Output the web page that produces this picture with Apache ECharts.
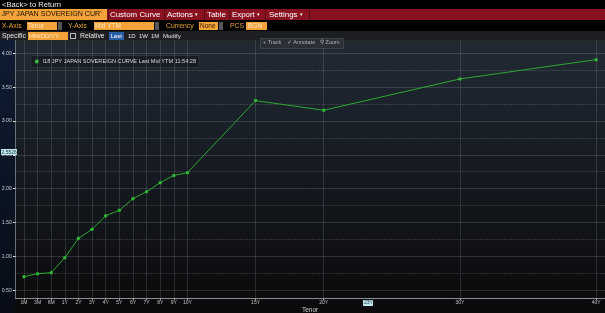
<!DOCTYPE html>
<html>
<head>
<meta charset="utf-8">
<script src="https://cdn.jsdelivr.net/npm/echarts@6/dist/echarts.min.js"></script>
<style>
  html, body { margin:0; padding:0; background:#000; }
  #wrap { position:relative; width:605px; height:313px; overflow:hidden; background:#000; font-family:"Liberation Sans", Arial, sans-serif; }
  #chart { position:absolute; left:0; top:0; width:605px; height:313px; }
  .t { position:absolute; white-space:nowrap; line-height:1; }
  .box { position:absolute; white-space:nowrap; line-height:1; }
</style>
</head>
<body>
<div id="wrap">
  <div id="chart"></div>

  <!-- header row 1 -->
  <div class="t" style="left:2px;top:1px;font-size:7.6px;color:#e8e8e8;">&lt;Back&gt; to Return</div>
  <!-- red menu bar -->
  <div class="box" style="left:0;top:9px;width:605px;height:11px;background:#8a1220;"></div>
  <div class="box" style="left:0;top:9px;width:107px;height:11px;background:#f3a33a;"></div>
  <div class="t" style="left:1.5px;top:11px;font-size:7.1px;color:#1a1000;">JPY JAPAN SOVEREIGN CUR'</div>
  <div class="t" style="left:110px;top:10.8px;font-size:7.9px;color:#fff;">Custom Curve</div>
  <div class="t" style="left:167px;top:10.8px;font-size:7.9px;color:#fff;">Actions <span style="font-size:5px;vertical-align:1px">&#9662;</span></div>
  <div class="t" style="left:207px;top:10.8px;font-size:7.9px;color:#fff;">Table</div>
  <div class="t" style="left:232px;top:10.8px;font-size:7.9px;color:#fff;">Export <span style="font-size:5px;vertical-align:1px">&#9662;</span></div>
  <div class="t" style="left:269px;top:10.8px;font-size:7.9px;color:#fff;">Settings <span style="font-size:5px;vertical-align:1px">&#9662;</span></div>
  <div class="box" style="left:108px;top:9px;width:1px;height:11px;background:#5a0a12;"></div>
  <div class="box" style="left:164px;top:9px;width:1px;height:11px;background:#5a0a12;"></div>
  <div class="box" style="left:204px;top:9px;width:1px;height:11px;background:#5a0a12;"></div>
  <div class="box" style="left:229px;top:9px;width:1px;height:11px;background:#5a0a12;"></div>
  <div class="box" style="left:265px;top:9px;width:1px;height:11px;background:#5a0a12;"></div>
  <div class="box" style="left:309px;top:9px;width:1px;height:11px;background:#5a0a12;"></div>

  <!-- header row 2 -->
  <div class="t" style="left:2px;top:22.5px;font-size:6.8px;color:#e9a63e;">X-Axis</div>
  <div class="box" style="left:27px;top:21.5px;width:30px;height:8px;background:#f3a33a;"></div>
  <div class="t" style="left:28px;top:22.5px;font-size:6.5px;color:#fde8c4;">Tenor</div>
  <div class="box" style="left:58px;top:21.5px;width:4px;height:8px;background:#555;"></div>
  <div class="t" style="left:68px;top:22.5px;font-size:6.8px;color:#e9a63e;">Y-Axis</div>
  <div class="box" style="left:94px;top:21.5px;width:60px;height:8px;background:#f3a33a;"></div>
  <div class="t" style="left:95px;top:22.5px;font-size:6.5px;color:#fde8c4;">Mid YTM</div>
  <div class="box" style="left:155px;top:21.5px;width:4px;height:8px;background:#555;"></div>
  <div class="t" style="left:166px;top:22.5px;font-size:6.8px;color:#e9a63e;">Currency</div>
  <div class="box" style="left:199px;top:21.5px;width:19px;height:8px;background:#f3a33a;"></div>
  <div class="t" style="left:200px;top:22.5px;font-size:6.5px;color:#3a2000;">None</div>
  <div class="box" style="left:219px;top:21.5px;width:4px;height:8px;background:#555;"></div>
  <div class="t" style="left:230px;top:22.5px;font-size:6.8px;color:#e9a63e;">PCS</div>
  <div class="box" style="left:246px;top:21.5px;width:21px;height:8px;background:#f3a33a;"></div>
  <div class="t" style="left:248px;top:22.5px;font-size:6.5px;color:#fde8c4;">BGN</div>

  <!-- header row 3 -->
  <div class="box" style="left:0;top:31px;width:605px;height:9px;background:#1c1e21;"></div>
  <div class="t" style="left:2px;top:32.5px;font-size:6.8px;color:#e8e8e8;">Specific</div>
  <div class="box" style="left:28px;top:31.5px;width:40px;height:8px;background:#f3a33a;"></div>
  <div class="t" style="left:29px;top:32.8px;font-size:6px;color:#fde8c4;">MM/DD/YY</div>
  <div class="box" style="left:70px;top:33px;width:4px;height:4px;border:0.5px solid #bbb;"></div>
  <div class="t" style="left:80px;top:32.5px;font-size:6.8px;color:#e8e8e8;">Relative</div>
  <div class="box" style="left:109px;top:31.5px;width:15px;height:8px;background:#2a5ea6;"></div>
  <div class="t" style="left:110.5px;top:33px;font-size:6px;color:#fff;">Last</div>
  <div class="t" style="left:128px;top:33px;font-size:6px;color:#e8e8e8;">1D</div>
  <div class="t" style="left:139px;top:33px;font-size:6px;color:#e8e8e8;">1W</div>
  <div class="t" style="left:151px;top:33px;font-size:6px;color:#e8e8e8;">1M</div>
  <div class="t" style="left:163px;top:33px;font-size:6px;color:#e8e8e8;">Modify</div>

  <!-- chart toolbar -->
  <div class="box" style="left:260px;top:38px;width:82px;height:8.5px;background:#2a2f36;border:0.5px solid #3c434c;"></div>
  <div class="t" style="left:263px;top:39.5px;font-size:5.5px;color:#a8b0b8;">+ Track</div>
  <div class="t" style="left:287px;top:39.5px;font-size:5.5px;color:#a8b0b8;">&#10003; Annotate</div>
  <div class="t" style="left:320px;top:39.5px;font-size:5.5px;color:#a8b0b8;">&#9906; Zoom</div>

  <!-- crosshair labels -->
  <div class="box" style="left:1px;top:149px;width:16px;height:6px;background:#bfe6ea;"></div>
  <div class="t" style="left:1.5px;top:149.5px;font-size:5px;color:#1a3a40;">2.5526</div>
  <div class="box" style="left:363px;top:299.5px;width:10px;height:6px;background:#bfe6ea;"></div>
  <div class="t" style="left:364px;top:300px;font-size:5px;color:#1a3a40;">23Y</div>

  <!-- x axis title -->
  <div class="t" style="left:302px;top:306.5px;font-size:6.5px;color:#c8ccd0;">Tenor</div>
</div>
<script>
// ---- data ----
const tenorLabels = ['1M','3M','6M','1Y','2Y','3Y','4Y','5Y','6Y','7Y','8Y','9Y','10Y','15Y','20Y','30Y','40Y'];
const tenorAxisValue = [-2,-1,0,1,2,3,4,5,6,7,8,9,10,15,20,30,40];
const midYtm = [0.70,0.745,0.76,0.98,1.267,1.40,1.60,1.68,1.853,1.955,2.088,2.196,2.236,3.30,3.158,3.62,3.905];
const yTickValues = [0.5,1.0,1.5,2.0,2.5,3.0,3.5,4.0];
const yMinorValues = [0.75,1.25,1.75,2.25,2.75,3.25,3.75];
const seriesName = 'I18 JPY JAPAN SOVEREIGN CURVE Last Mid YTM 11:54:28';

const labelFor = {};
tenorAxisValue.forEach((v, i) => { labelFor[v] = tenorLabels[i]; });

const chart = echarts.init(document.getElementById('chart'), null, {renderer:'canvas'});

const gridLineColor = 'rgba(190,200,210,0.16)';
const markData = [];
tenorAxisValue.forEach(v => markData.push({xAxis: v, lineStyle:{color:gridLineColor, width:1, type:'solid'}}));
yTickValues.forEach(v => markData.push({yAxis: v, lineStyle:{color:'rgba(190,200,210,0.18)', width:1, type:'solid'}}));
yMinorValues.forEach(v => markData.push({yAxis: v, lineStyle:{color:'rgba(200,205,210,0.35)', width:1, type:[1,2]}}));

chart.setOption({
  backgroundColor: 'transparent',
  animation: false,
  graphic: [
    {type:'rect', z:-10, silent:true, shape:{x:0, y:40, width:605, height:273},
      style:{fill: new echarts.graphic.LinearGradient(0,0,0,1,[
        {offset:0, color:'#222a35'},{offset:0.45, color:'#161b22'},{offset:1, color:'#0a0a0b'}])}},
    {type:'rect', z:-9, silent:true, shape:{x:0, y:40, width:15, height:273},
      style:{fill: new echarts.graphic.LinearGradient(0,0,0,1,[
        {offset:0, color:'#0f1d33'},{offset:1, color:'#070c16'}])}},
    {type:'rect', z:-9, silent:true, shape:{x:15, y:40, width:590, height:5},
      style:{fill:'#23282e'}}
  ],
  legend: {
    show: true,
    left: 31, top: 55.5,
    itemWidth: 3.5, itemHeight: 3.5, icon: 'rect',
    padding: [3, 3, 3, 4],
    backgroundColor: '#181d24',
    borderColor: '#3a4048', borderWidth: 0.5,
    textStyle: {color:'#d4d8dc', fontSize:5.6, fontFamily:'Liberation Sans, Arial, sans-serif', padding:[0,0,0,-1]},
    data: [seriesName]
  },
  grid: {left:15.5, right:0, top:40, bottom:15, containLabel:false, outerBoundsMode:'none'},
  xAxis: {
    type: 'value',
    min: -2.62, max: 40.65,
    axisLine: {show:true, onZero:false, lineStyle:{color:'#8a9096', width:1}},
    axisTick: {show:true, customValues: tenorAxisValue, length:2, inside:false, lineStyle:{color:'#9aa0a6'}},
    axisLabel: {show:true, customValues: tenorAxisValue, margin:2.5, color:'#c0c4c8', fontSize:5,
      fontFamily:'Liberation Sans, Arial, sans-serif',
      formatter: v => labelFor[v] !== undefined ? labelFor[v] : ''},
    splitLine: {show:false}
  },
  yAxis: {
    type: 'value',
    min: 0.386, max: 4.195,
    axisLine: {show:true, onZero:false, lineStyle:{color:'#6a7078', width:1}},
    axisTick: {show:true, customValues: yTickValues, length:2.5, lineStyle:{color:'#e0e0e0'}},
    axisLabel: {show:true, customValues: yTickValues, margin:3.5, color:'#c8ccd0', fontSize:5.3,
      fontFamily:'Liberation Sans, Arial, sans-serif',
      formatter: v => v.toFixed(2)},
    splitLine: {show:false}
  },
  series: [
    {
      name: 'grid', type: 'line', z: 1, silent: true,
      data: [[0, 1]], symbol: 'none', lineStyle:{opacity:0},
      markLine: {silent:true, symbol:['none','none'], label:{show:false}, animation:false, data: markData}
    },
    {
      name: seriesName, type: 'line', z: 5,
      data: tenorAxisValue.map((v, i) => [v, midYtm[i]]),
      symbol: 'circle', symbolSize: 3.5,
      itemStyle: {color:'#2fb534'},
      lineStyle: {color:'#2ea832', width:1}
    }
  ]
});
</script>
</body>
</html>
